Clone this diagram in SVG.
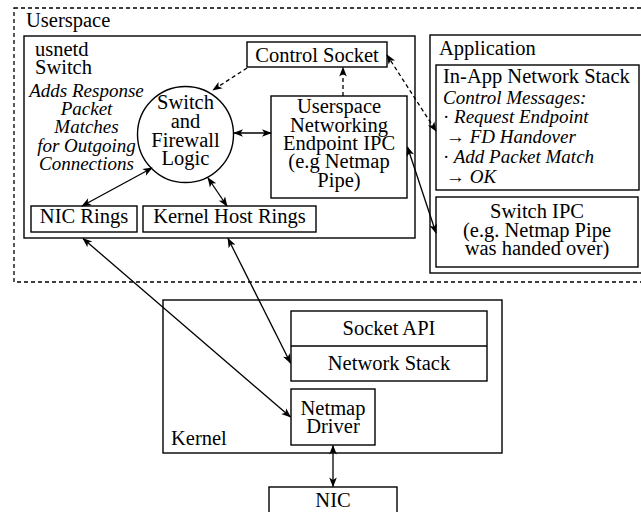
<svg xmlns="http://www.w3.org/2000/svg" width="641" height="512" viewBox="0 0 641 512" font-family="'Liberation Serif', 'DejaVu Serif', serif">
  <style>
    text { font-family: "Liberation Serif", "DejaVu Serif", serif; font-size: 20.5px; fill: #000; }
    .it { font-style: italic; font-size: 19px; }
    .up { font-style: normal; }
    .mid { text-anchor: middle; }
    .box { fill: #fff; stroke: #000; stroke-width: 1.4; }
    .frame { fill: none; stroke: #000; stroke-width: 1.3; stroke-dasharray: 4 3; }
    .conn { fill: none; stroke: #000; stroke-width: 1.3; }
    .dash { stroke-dasharray: 4 3; }
  </style>
  <defs>
    <marker id="head" markerUnits="userSpaceOnUse" markerWidth="12" markerHeight="10"
            viewBox="-10 -5 12 10" refX="0" refY="0" orient="auto-start-reverse">
      <path d="M0.8,0 L-9,-3.8 L-6.5,0 L-9,3.8 Z" fill="#000" stroke="none"/>
    </marker>
  </defs>

  <rect width="641" height="512" fill="#fff"/>

  <!-- userspace region -->
  <g id="userspace">
    <rect class="frame" x="14" y="8" width="640" height="274"/>
    <text x="26" y="27">Userspace</text>
  </g>

  <!-- usnetd switch -->
  <g id="usnetd">
    <rect class="box" x="24" y="36" width="391" height="202"/>
    <text x="35" y="56">usnetd</text>
    <text x="35" y="74">Switch</text>
    <text class="it mid" x="86.5" y="97">Adds Response</text>
    <text class="it mid" x="86.5" y="115">Packet</text>
    <text class="it mid" x="86.5" y="133">Matches</text>
    <text class="it mid" x="86.5" y="152">for Outgoing</text>
    <text class="it mid" x="86.5" y="170">Connections</text>
  </g>

  <g id="logic">
    <circle class="box" cx="185.5" cy="134.5" r="48"/>
    <text class="mid" x="185.5" y="109">Switch</text>
    <text class="mid" x="185.5" y="128">and</text>
    <text class="mid" x="185.5" y="147">Firewall</text>
    <text class="mid" x="185.5" y="165">Logic</text>
  </g>

  <g id="control-socket">
    <rect class="box" x="247" y="42" width="140" height="25"/>
    <text class="mid" x="317" y="61.5">Control Socket</text>
  </g>

  <g id="endpoint-ipc">
    <rect class="box" x="271" y="96" width="136" height="102"/>
    <text class="mid" x="339" y="113">Userspace</text>
    <text class="mid" x="339" y="132">Networking</text>
    <text class="mid" x="339" y="150">Endpoint IPC</text>
    <text class="mid" x="339" y="168">(e.g Netmap</text>
    <text class="mid" x="339" y="187">Pipe)</text>
  </g>

  <g id="nic-rings">
    <rect class="box" x="31" y="206" width="106" height="26"/>
    <text class="mid" x="84" y="223">NIC Rings</text>
  </g>

  <g id="host-rings">
    <rect class="box" x="143" y="206" width="173" height="26"/>
    <text class="mid" x="229.5" y="223">Kernel Host Rings</text>
  </g>

  <!-- application -->
  <g id="application">
    <rect class="box" x="430" y="35" width="220" height="238"/>
    <text x="439" y="55">Application</text>
  </g>

  <g id="app-stack">
    <rect class="box" x="436" y="65" width="203" height="125"/>
    <text x="443" y="83">In-App Network Stack</text>
    <text class="it" x="443" y="104">Control Messages:</text>
    <text class="it" x="443" y="123"><tspan class="up">·</tspan> Request Endpoint</text>
    <text class="it" x="446" y="143"><tspan class="up">→</tspan> FD Handover</text>
    <text class="it" x="443" y="163"><tspan class="up">·</tspan> Add Packet Match</text>
    <text class="it" x="446" y="183"><tspan class="up">→</tspan> OK</text>
  </g>

  <g id="switch-ipc">
    <rect class="box" x="436" y="197" width="202" height="70"/>
    <text class="mid" x="537" y="218">Switch IPC</text>
    <text class="mid" x="537" y="237">(e.g. Netmap Pipe</text>
    <text class="mid" x="537" y="255">was handed over)</text>
  </g>

  <!-- kernel -->
  <g id="kernel">
    <rect class="box" x="163" y="300" width="339" height="153"/>
    <text x="171" y="445">Kernel</text>
  </g>

  <g id="socket-stack">
    <rect class="box" x="291" y="311" width="196" height="70"/>
    <line x1="291" y1="346" x2="487" y2="346" stroke="#000" stroke-width="1.4"/>
    <text class="mid" x="389" y="335">Socket API</text>
    <text class="mid" x="389" y="370">Network Stack</text>
  </g>

  <g id="netmap-driver">
    <rect class="box" x="291" y="389" width="84" height="56"/>
    <text class="mid" x="333" y="415">Netmap</text>
    <text class="mid" x="333" y="433">Driver</text>
  </g>

  <g id="nic">
    <rect class="box" x="269" y="487" width="128" height="32"/>
    <text class="mid" x="333" y="507">NIC</text>
  </g>

  <!-- connectors -->
  <g id="connectors">
    <line class="conn dash" x1="247" y1="68" x2="213" y2="90" marker-end="url(#head)"/>
    <line class="conn dash" x1="343" y1="96" x2="343" y2="67.5" marker-end="url(#head)"/>
    <line class="conn" x1="234" y1="133" x2="271" y2="133" marker-start="url(#head)" marker-end="url(#head)"/>
    <line class="conn" x1="152" y1="168" x2="82" y2="206" marker-start="url(#head)" marker-end="url(#head)"/>
    <line class="conn" x1="208" y1="178" x2="227" y2="206" marker-start="url(#head)" marker-end="url(#head)"/>
    <line class="conn dash" x1="387" y1="55" x2="436" y2="131" marker-start="url(#head)" marker-end="url(#head)"/>
    <line class="conn" x1="407.5" y1="147" x2="436" y2="233" marker-start="url(#head)" marker-end="url(#head)"/>
    <line class="conn" x1="83" y1="238.5" x2="290.5" y2="417" marker-start="url(#head)" marker-end="url(#head)"/>
    <line class="conn" x1="228" y1="238.5" x2="290.5" y2="363" marker-start="url(#head)" marker-end="url(#head)"/>
    <line class="conn" x1="333" y1="445.5" x2="333" y2="486.5" marker-start="url(#head)" marker-end="url(#head)"/>
  </g>
</svg>
